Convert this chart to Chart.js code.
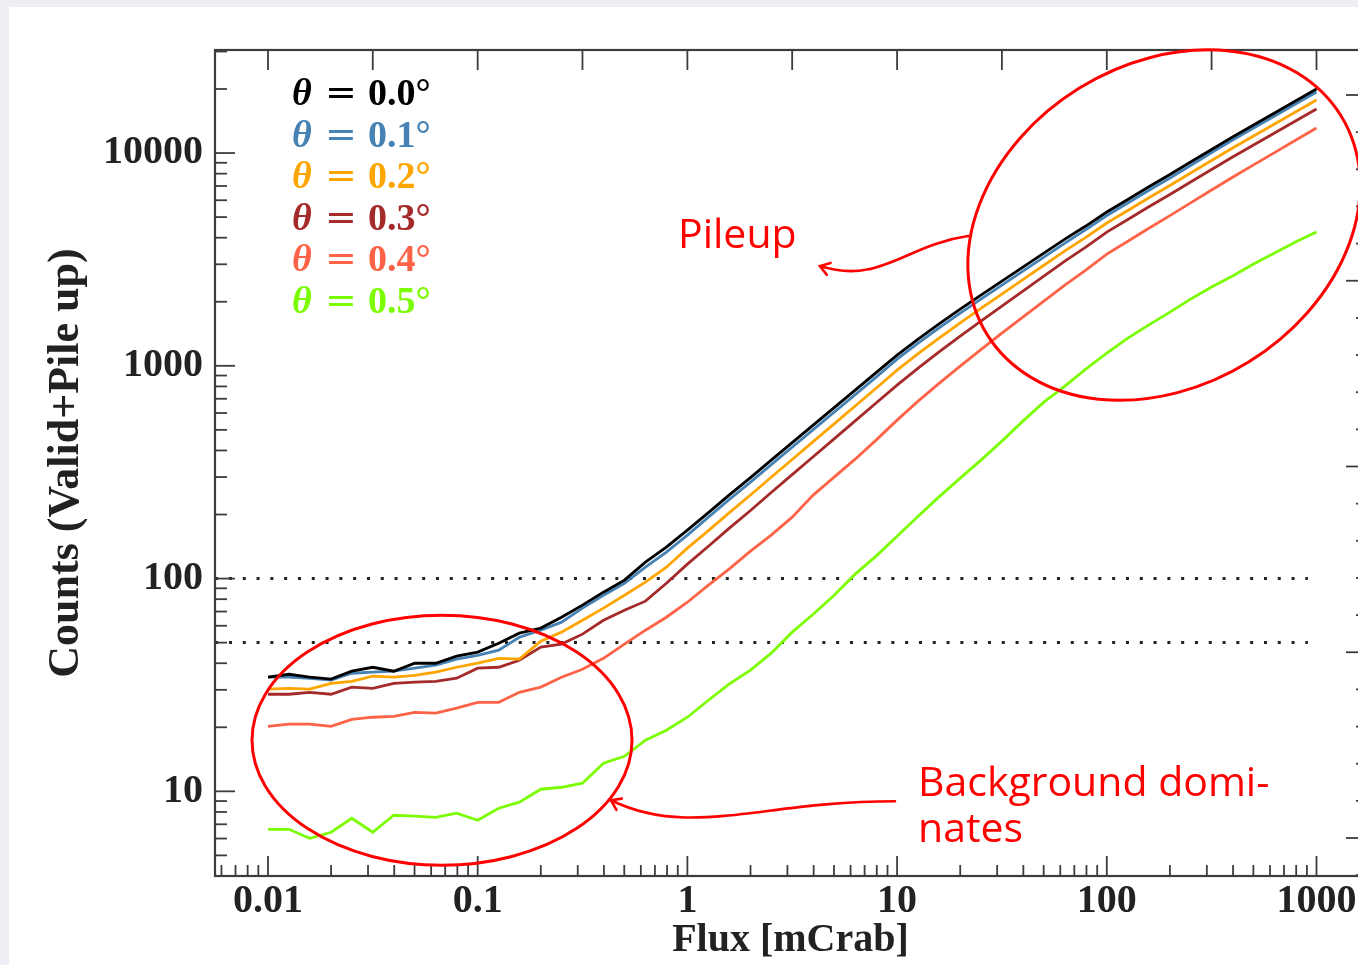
<!DOCTYPE html>
<html>
<head>
<meta charset="utf-8">
<title>Counts versus source flux</title>
<script src="https://cdn.jsdelivr.net/npm/chart.js@4.4.1/dist/chart.umd.min.js"></script>
<style>
  html, body { margin: 0; padding: 0; width: 1358px; height: 965px; overflow: hidden; background: #eceef3; }
  #sheet { position: absolute; left: 9px; top: 7px; width: 1349px; height: 958px; background: #ffffff; }
  #wrap { position: absolute; left: 0; top: 0; width: 1400px; height: 965px; }
</style>
</head>
<body>
<div id="sheet"></div>
<div id="wrap"><canvas id="c" width="1400" height="965"></canvas></div>
<script>
// Source flux grid [mCrab]
const flux = [
  0.01, 0.0126, 0.0158, 0.02, 0.0251, 0.0316, 0.0398, 0.0501, 0.0631, 0.0794,
  0.1, 0.126, 0.158, 0.2, 0.251, 0.316, 0.398, 0.501, 0.631, 0.794,
  1, 1.26, 1.58, 2, 2.51, 3.16, 3.98, 5.01, 6.31, 7.94,
  10, 12.6, 15.8, 20, 25.1, 31.6, 39.8, 50.1, 63.1, 79.4,
  100, 126, 158, 200, 251, 316, 398, 501, 631, 794, 1000
];

// Counts (valid + pile up) per off-axis angle
const theta00 = [
  34.4, 35.5, 34.4, 33.7, 36.7, 38.3, 36.7, 40.0, 40.0, 43.2,
  45.1, 49.7, 55.4, 58.5, 65.8, 75.0, 86.3, 98.3, 119.4, 140.5,
  168.9, 204.1, 246.7, 298.1, 360.3, 435.4, 526.2, 636.0, 768.6, 929.0,
  1123, 1335, 1571, 1848, 2150, 2502, 2911, 3388, 3942, 4538,
  5280, 6045, 6921, 7924, 9072, 10387, 11891, 13541, 15423, 17560, 19990
];
const theta01 = [
  34.4, 34.4, 34.0, 33.3, 35.9, 36.3, 36.7, 37.9, 39.2, 41.8,
  43.6, 46.1, 53.0, 57.2, 62.4, 72.6, 83.5, 95.1, 113.1, 133.1,
  160.0, 194.4, 234.9, 283.9, 343.1, 414.8, 501.2, 605.8, 732.0, 884.9,
  1075, 1278, 1504, 1769, 2058, 2395, 2787, 3244, 3775, 4369,
  5084, 5819, 6663, 7631, 8735, 10055, 11510, 13108, 14928, 16997, 19360
];
const theta02 = [
  30.2, 30.5, 30.2, 32.2, 32.9, 34.8, 34.4, 35.1, 36.3, 38.3,
  40.0, 42.2, 41.8, 50.8, 56.0, 63.7, 72.6, 83.5, 96.2, 113.1,
  139.0, 168.0, 203.7, 247.0, 299.4, 362.9, 440.1, 533.7, 647.1, 784.7,
  954.5, 1140, 1347, 1591, 1860, 2174, 2540, 2969, 3469, 4011,
  4688, 5367, 6143, 7035, 8054, 9220, 10556, 12020, 13688, 15590, 17750
];
const theta03 = [
  28.6, 28.6, 29.2, 28.6, 30.9, 30.5, 32.2, 32.6, 32.9, 34.0,
  37.9, 38.3, 41.3, 47.6, 49.2, 54.8, 63.7, 71.0, 78.3, 95.1,
  116.9, 141.8, 172.2, 209.0, 253.7, 307.9, 373.7, 453.8, 550.7, 668.5,
  811.4, 975.4, 1160, 1379, 1622, 1909, 2245, 2641, 3106, 3615,
  4252, 4869, 5574, 6381, 7307, 8365, 9577, 10904, 12416, 14140, 16100
];
const theta04 = [
  20.2, 20.7, 20.7, 20.2, 21.8, 22.3, 22.5, 23.5, 23.3, 24.6,
  26.2, 26.2, 29.2, 30.9, 34.4, 37.5, 42.2, 49.2, 57.2, 65.8,
  77.4, 93.1, 110.7, 134.5, 160.0, 194.4, 246.7, 299.7, 364.1, 447.4,
  555.5, 682.3, 824.8, 996.8, 1192, 1424, 1694, 2015, 2395, 2818,
  3351, 3848, 4421, 5078, 5832, 6699, 7695, 8794, 10044, 11475, 13108
];
const theta05 = [
  6.63, 6.63, 6.02, 6.42, 7.47, 6.42, 7.72, 7.64, 7.55, 7.89,
  7.31, 8.33, 8.89, 10.23, 10.45, 10.92, 13.56, 14.62, 17.39, 19.38,
  22.3, 26.8, 31.9, 37.1, 44.6, 56.0, 68.0, 83.5, 104.9, 127.5,
  158.2, 196.5, 241.4, 296.5, 360.3, 442.6, 549.5, 675.0, 802.7, 964.9,
  1147, 1350, 1554, 1788, 2058, 2344, 2641, 3007, 3388, 3815, 4252
];

const angleLabels = ['0.0°', '0.1°', '0.2°', '0.3°', '0.4°', '0.5°'];
const seriesValues = [theta00, theta01, theta02, theta03, theta04, theta05];

// Reference count levels (dotted) and the flux span they cover
const thresholdCounts = [100, 50];
const thresholdFlux = [0.0056, 910];

// Axis ticks
const xTickValues = [0.01, 0.1, 1, 10, 100, 1000];
const xTickLabels = ['0.01', '0.1', '1', '10', '100', '1000'];
const yTickValues = [10, 100, 1000, 10000];
const yTickLabels = ['10', '100', '1000', '10000'];
const topTickValues = [0.01, 0.0316, 0.1, 0.316, 1, 3.16, 10, 31.6, 100, 316, 1000];
const rightMajorValues = [0, 1, 2, 3, 4];

// ---- styling ----
const lineColors = ['#000000', '#4682b4', '#ffa500', '#a52a2a', '#ff6347', '#7cfc00'];
const inkColor = '#222222';
const frameColor = '#3c3c3c';
const noteColor = '#ff0000';
const serif = '"Liberation Serif", "Times New Roman", serif';

// Annotation geometry in data units (flux, counts); radii in pixels
const noteEllipses = [
  { center: [0.0676, 17.39], rx: 190, ry: 125, rot: 0 },
  { center: [187.4, 4586], rx: 208, ry: 161, rot: -31.7 }
];
const noteArrows = [
  { path: [[21.78, 4072], [10.91, 3694], [8.288, 2395], [4.289, 2942]] },
  { path: [[9.772, 8.98], [2.219, 8.98], [1.029, 6.0], [0.432, 9.08]] }
];
const noteTexts = [
  { lines: ['Pileup'], at: [0.902, 3576] },
  { lines: ['Background domi-', 'nates'], at: [12.58, 9.55] }
];

function minorsBetween(lo, hi) {
  const out = [];
  for (let d = Math.floor(Math.log10(lo)); d <= Math.ceil(Math.log10(hi)); d++) {
    for (let k = 2; k <= 9; k++) {
      const v = k * Math.pow(10, d);
      if (v >= lo && v <= hi) out.push(v);
    }
  }
  return out;
}

const frameAndTicks = {
  id: 'frameAndTicks',
  afterDatasetsDraw(chart) {
    const { ctx, chartArea: a, scales: { x, y, y2 } } = chart;
    ctx.save();
    ctx.strokeStyle = frameColor;
    ctx.lineWidth = 1.8;
    const seg = (x1, y1, x2, y2p) => { ctx.beginPath(); ctx.moveTo(x1, y1); ctx.lineTo(x2, y2p); ctx.stroke(); };
    // bottom axis
    xTickValues.forEach(v => { const px = x.getPixelForValue(v); seg(px, a.bottom, px, a.bottom - 20); });
    minorsBetween(x.min, x.max).forEach(v => { const px = x.getPixelForValue(v); seg(px, a.bottom, px, a.bottom - 11); });
    // top axis
    topTickValues.forEach(v => { const px = x.getPixelForValue(v); seg(px, a.top, px, a.top + 20); });
    // left axis
    yTickValues.forEach(v => { const py = y.getPixelForValue(v); seg(a.left, py, a.left + 20, py); });
    minorsBetween(y.min, y.max).forEach(v => { const py = y.getPixelForValue(v); seg(a.left, py, a.left + 12, py); });
    // right axis
    rightMajorValues.forEach(v => { const py = y2.getPixelForValue(v); seg(a.right, py, a.right - 20, py); });
    for (let v = -0.2; v <= 4.2; v += 0.2) {
      if (Math.abs(v - Math.round(v)) < 1e-6) continue;
      const py = y2.getPixelForValue(v); seg(a.right, py, a.right - 10, py);
    }
    // frame
    ctx.lineWidth = 2.2;
    ctx.strokeRect(a.left, a.top, a.right - a.left, a.bottom - a.top);
    ctx.restore();
  }
};

const angleLegend = {
  id: 'angleLegend',
  afterDatasetsDraw(chart) {
    const { ctx, chartArea: a } = chart;
    ctx.save();
    ctx.textBaseline = 'alphabetic';
    angleLabels.forEach((lab, i) => {
      const yb = a.top + 55 + i * 41.5;
      ctx.fillStyle = lineColors[i];
      ctx.textAlign = 'left';
      ctx.font = 'italic bold 38px ' + serif;
      ctx.fillText('θ', a.left + 77, yb);
      ctx.textAlign = 'center';
      ctx.font = '38px "DejaVu Serif", serif';
      ctx.fillText('=', a.left + 126, yb);
      ctx.textAlign = 'left';
      ctx.font = 'bold 38px ' + serif;
      ctx.fillText(lab, a.left + 153, yb);
    });
    ctx.restore();
  }
};

const notes = {
  id: 'notes',
  afterDraw(chart) {
    const { ctx, scales: { x, y } } = chart;
    const P = pt => [x.getPixelForValue(pt[0]), y.getPixelForValue(pt[1])];
    ctx.save();
    ctx.strokeStyle = noteColor;
    ctx.lineWidth = 3;
    noteEllipses.forEach(e => {
      const [cx, cy] = P(e.center);
      ctx.beginPath();
      ctx.ellipse(cx, cy, e.rx, e.ry, e.rot * Math.PI / 180, 0, 2 * Math.PI);
      ctx.stroke();
    });
    ctx.lineWidth = 2.6;
    ctx.lineCap = 'round';
    noteArrows.forEach(arw => {
      const [p0, c1, c2, p3] = arw.path.map(P);
      ctx.beginPath();
      ctx.moveTo(p0[0], p0[1]);
      ctx.bezierCurveTo(c1[0], c1[1], c2[0], c2[1], p3[0], p3[1]);
      ctx.stroke();
      const ang = Math.atan2(p3[1] - c2[1], p3[0] - c2[0]);
      const L = 11;
      ctx.beginPath();
      ctx.moveTo(p3[0] + L * Math.cos(ang + Math.PI - 0.6), p3[1] + L * Math.sin(ang + Math.PI - 0.6));
      ctx.lineTo(p3[0], p3[1]);
      ctx.lineTo(p3[0] + L * Math.cos(ang + Math.PI + 0.6), p3[1] + L * Math.sin(ang + Math.PI + 0.6));
      ctx.stroke();
    });
    ctx.fillStyle = noteColor;
    ctx.font = '41px "Open Sans", sans-serif';
    ctx.textAlign = 'left';
    ctx.textBaseline = 'alphabetic';
    noteTexts.forEach(t => {
      const [tx, ty] = P(t.at);
      t.lines.forEach((ln, k) => ctx.fillText(ln, tx, ty + k * 46));
    });
    ctx.restore();
  }
};

const datasets = seriesValues.map((vals, i) => ({
  label: 'θ = ' + angleLabels[i],
  data: flux.map((f, j) => ({ x: f, y: vals[j] })),
  borderColor: lineColors[i],
  borderWidth: 2.8,
  pointRadius: 0,
  tension: 0,
  fill: false,
  order: i
}));
thresholdCounts.forEach(c => datasets.push({
  label: 'level ' + c,
  data: thresholdFlux.map(f => ({ x: f, y: c })),
  borderColor: inkColor,
  borderWidth: 3,
  borderDash: [3, 10.8],
  borderCapStyle: 'butt',
  pointRadius: 0,
  fill: false,
  order: 10
}));

new Chart(document.getElementById('c'), {
  type: 'line',
  data: { datasets },
  options: {
    responsive: false,
    animation: false,
    events: [],
    layout: { padding: { top: 50, right: 34, left: 0, bottom: 0 } },
    plugins: { legend: { display: false }, tooltip: { enabled: false } },
    scales: {
      x: {
        type: 'logarithmic',
        position: 'bottom',
        min: 0.00559,
        max: 1722,
        grid: { display: false, drawTicks: false },
        border: { display: false },
        afterBuildTicks: s => { s.ticks = xTickValues.map(v => ({ value: v })); },
        afterFit: s => { s.height = 89; },
        ticks: {
          autoSkip: false, maxRotation: 0, padding: 2, color: inkColor,
          font: { family: serif, size: 40, weight: 'bold', lineHeight: 1.2 },
          callback: (v, i) => xTickLabels[i]
        },
        title: {
          display: true, text: 'Flux [mCrab]', color: inkColor,
          font: { family: serif, size: 40, weight: 'bold', lineHeight: 1.2 },
          padding: { top: 0, bottom: 0 }
        }
      },
      y: {
        type: 'logarithmic',
        position: 'left',
        min: 4,
        max: 30500,
        grid: { display: false, drawTicks: false },
        border: { display: false },
        afterBuildTicks: s => { s.ticks = yTickValues.map(v => ({ value: v })); },
        afterFit: s => { s.width = 215; },
        ticks: {
          autoSkip: false, padding: 12, color: inkColor,
          font: { family: serif, size: 40, weight: 'bold', lineHeight: 1.2 },
          callback: (v, i) => yTickLabels[i]
        },
        title: {
          display: true, text: 'Counts (Valid+Pile up)', color: inkColor,
          font: { family: serif, size: 44, weight: 'bold', lineHeight: 1.2 },
          padding: { top: 40, bottom: 0 }
        }
      },
      y2: {
        type: 'linear',
        position: 'right',
        display: false,
        min: -0.2046,
        max: 4.2423
      }
    }
  },
  plugins: [frameAndTicks, angleLegend, notes]
});
</script>
</body>
</html>
